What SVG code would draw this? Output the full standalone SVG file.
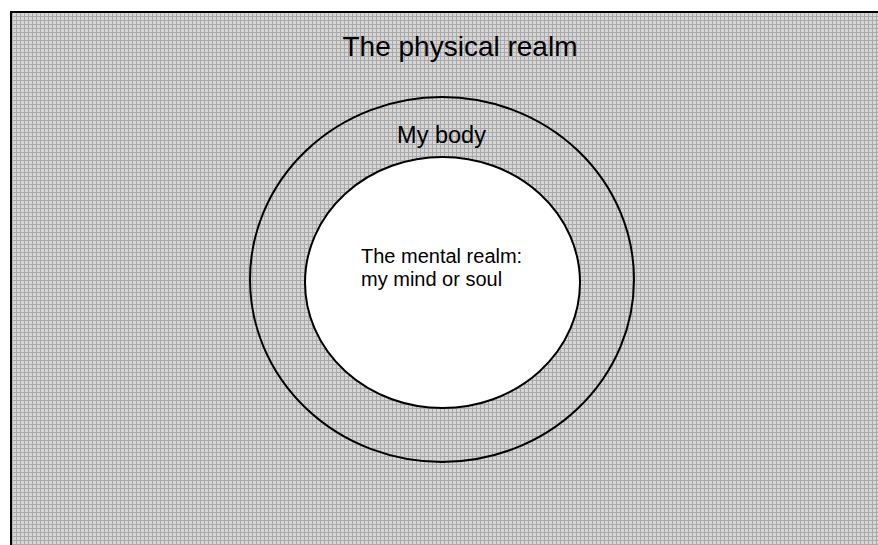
<svg xmlns="http://www.w3.org/2000/svg" width="878" height="545" viewBox="0 0 878 545">
<defs>
<pattern id="grid" x="0" y="0" width="4" height="4" patternUnits="userSpaceOnUse">
<rect width="4" height="4" fill="#d6d6d6"/>
<rect x="0" y="0" width="1" height="4" fill="#a9a9a9"/>
<rect x="0" y="0" width="4" height="1" fill="#a9a9a9"/>
</pattern>
</defs>
<style>
text{font-family:"Liberation Sans",Arial,sans-serif;fill:#000}
.ring{stroke:#000;stroke-width:2}
</style>
<rect width="878" height="545" fill="#fff"/>
<g id="physical">
<rect x="11" y="12" width="880" height="550" fill="url(#grid)" stroke="#000" stroke-width="2"/>
<text x="460" y="56" font-size="28" text-anchor="middle">The physical realm</text>
</g>
<g id="body">
<ellipse class="ring" cx="442" cy="279.5" rx="192" ry="182.5" fill="url(#grid)"/>
<text x="441.5" y="143" font-size="23.5" text-anchor="middle">My body</text>
</g>
<g id="mind">
<ellipse class="ring" cx="442.5" cy="282.5" rx="137.5" ry="125.5" fill="#fff"/>
<text x="361" y="263" font-size="20">The mental realm:</text>
<text x="361" y="286" font-size="20">my mind or soul</text>
</g>
<g id="connectors"/>
</svg>
